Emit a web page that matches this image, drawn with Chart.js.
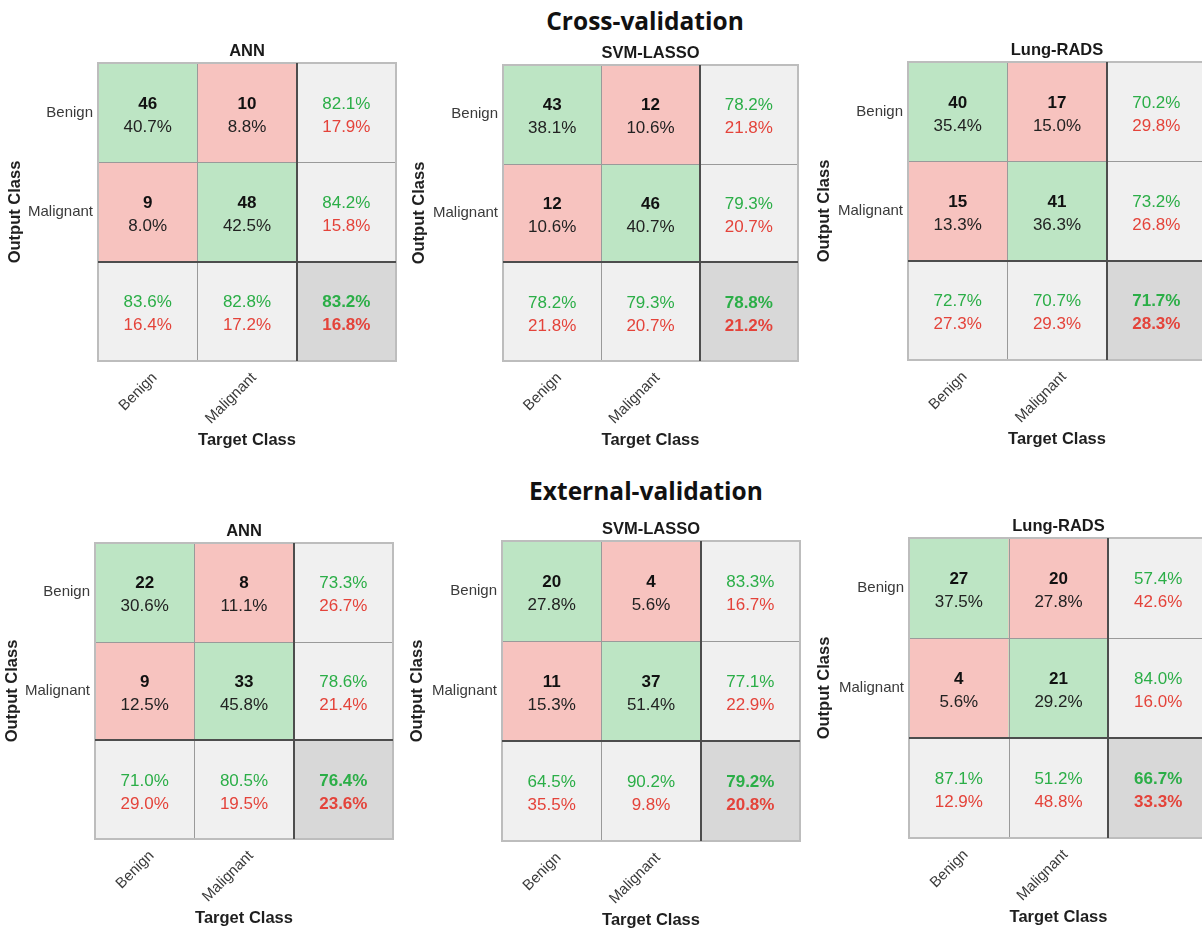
<!DOCTYPE html>
<html>
<head>
<meta charset="utf-8">
<script src="https://cdn.jsdelivr.net/npm/chart.js@4.4.1/dist/chart.umd.min.js"></script>
<style>
html, body { margin: 0; padding: 0; background: #ffffff; overflow: hidden; width: 1202px; height: 928px; }
#wrap { position: relative; width: 1202px; height: 928px; overflow: hidden; }
#wrap canvas { position: absolute; }
.group-title { position: absolute; width: 400px; text-align: center; font-family: 'Open Sans', 'Liberation Sans', sans-serif; font-weight: 700; font-size: 24.5px; line-height: 30px; color: #111; }
</style>
</head>
<body>
<div id="wrap"></div>
<script>
// ---------------- data ----------------
const groupTitles = ['Cross-validation', 'External-validation'];
const modelNames = ['ANN', 'SVM-LASSO', 'Lung-RADS'];
const classLabels = ['Benign', 'Malignant'];          // output-class (row) tick labels
const targetTickLabels = ['Benign', 'Malignant', '']; // target-class (column) tick labels
// counts in order [out Benign/target Benign, out Benign/target Malignant,
//                  out Malignant/target Benign, out Malignant/target Malignant]
const cvANN  = [46, 10, 9, 48];
const cvSVM  = [43, 12, 12, 46];
const cvLung = [40, 17, 15, 41];
const evANN  = [22, 8, 9, 33];
const evSVM  = [20, 4, 11, 37];
const evLung = [27, 20, 4, 21];

// ---------------- styles ----------------
const GREEN_CELL = '#bde5c4';
const RED_CELL = '#f7c3bf';
const GRAY_CELL = '#f0f0f0';
const CORNER_CELL = '#d8d8d8';
const GREEN_TEXT = '#2bae47';
const RED_TEXT = '#e4433a';
const FONT = "'Liberation Sans', Arial, sans-serif";
const cellColors = [
  [GREEN_CELL, RED_CELL, GRAY_CELL],
  [RED_CELL, GREEN_CELL, GRAY_CELL],
  [GRAY_CELL, GRAY_CELL, CORNER_CELL]
];

// ---------------- layout of the six panels ----------------
const panels = [
  { counts: cvANN,  name: modelNames[0], L: 98,  T: 63,  R: 396,  B: 361, left: 6 },
  { counts: cvSVM,  name: modelNames[1], L: 503, T: 65,  R: 798,  B: 361, left: 410 },
  { counts: cvLung, name: modelNames[2], L: 908, T: 62,  R: 1206, B: 360, left: 815 },
  { counts: evANN,  name: modelNames[0], L: 95,  T: 543, R: 393,  B: 839, left: 3 },
  { counts: evSVM,  name: modelNames[1], L: 502, T: 541, R: 800,  B: 841, left: 408 },
  { counts: evLung, name: modelNames[2], L: 909, T: 538, R: 1208, B: 838, left: 815 }
];
const TITLE_BOX = 21;
const XAXIS_H = 89;
const RIGHT_PAD = 2;

const wrap = document.getElementById('wrap');
[[groupTitles[0], 445, 6], [groupTitles[1], 446, 476]].forEach(([txt, x, y]) => {
  const d = document.createElement('div');
  d.className = 'group-title';
  d.style.left = x + 'px';
  d.style.top = y + 'px';
  d.textContent = txt;
  wrap.appendChild(d);
});

function pct(n, d) {
  return (Math.round(n / d * 1000) / 10).toFixed(1) + '%';
}

const cellPlugin = {
  id: 'confusionCells',
  afterDatasetsDraw(chart) {
    const counts = chart.options.plugins.confusionCells.counts;
    const { ctx } = chart;
    const xs = chart.scales.x, ys = chart.scales.y;
    const xe = [0, 1, 2, 3].map(i => xs.getPixelForValue(i - 0.5));
    const ye = [0, 1, 2, 3].map(i => ys.getPixelForValue(i));
    const total = counts.reduce((a, b) => a + b, 0);
    ctx.save();
    // thin inner lines
    ctx.strokeStyle = '#9a9a9a';
    ctx.lineWidth = 1;
    [1].forEach(i => {
      const x = Math.round(xe[i]) + 0.5;
      ctx.beginPath(); ctx.moveTo(x, ye[0]); ctx.lineTo(x, ye[3]); ctx.stroke();
      const y = Math.round(ye[i]) + 0.5;
      ctx.beginPath(); ctx.moveTo(xe[0], y); ctx.lineTo(xe[3], y); ctx.stroke();
    });
    // outer border
    ctx.strokeStyle = '#bdbdbd';
    ctx.lineWidth = 2;
    ctx.strokeRect(xe[0], ye[0], xe[3] - xe[0], ye[3] - ye[0]);
    // thick separators
    ctx.strokeStyle = '#4d4d4d';
    ctx.lineWidth = 2;
    ctx.beginPath(); ctx.moveTo(Math.round(xe[2]), ye[0]); ctx.lineTo(Math.round(xe[2]), ye[3]); ctx.stroke();
    ctx.beginPath(); ctx.moveTo(xe[0], Math.round(ye[2])); ctx.lineTo(xe[3], Math.round(ye[2])); ctx.stroke();

    ctx.textAlign = 'center';
    ctx.textBaseline = 'alphabetic';
    const line = (txt, cx, cy, color, bold) => {
      ctx.font = (bold ? 'bold ' : '') + '17px ' + FONT;
      ctx.fillStyle = color;
      ctx.fillText(txt, cx, cy);
    };
    for (let r = 0; r < 3; r++) {
      for (let c = 0; c < 3; c++) {
        const cx = (xe[c] + xe[c + 1]) / 2;
        const cy = (ye[r] + ye[r + 1]) / 2;
        const top = cy - 4, bot = cy + 19;
        if (r < 2 && c < 2) {
          const v = counts[r * 2 + c];
          line(String(v), cx, top, '#111111', true);
          line(pct(v, total), cx, bot, '#222222', false);
        } else if (r < 2 && c === 2) {
          const ok = counts[r * 3];
          const tot = counts[r * 2] + counts[r * 2 + 1];
          line(pct(ok, tot), cx, top, GREEN_TEXT, false);
          line(pct(tot - ok, tot), cx, bot, RED_TEXT, false);
        } else if (r === 2 && c < 2) {
          const ok = counts[c * 3];
          const tot = counts[c] + counts[2 + c];
          line(pct(ok, tot), cx, top, GREEN_TEXT, false);
          line(pct(tot - ok, tot), cx, bot, RED_TEXT, false);
        } else {
          const ok = counts[0] + counts[3];
          line(pct(ok, total), cx, top, GREEN_TEXT, true);
          line(pct(total - ok, total), cx, bot, RED_TEXT, true);
        }
      }
    }
    ctx.restore();
  }
};

panels.forEach(p => {
  const canvas = document.createElement('canvas');
  const w = p.R + RIGHT_PAD - p.left;
  const h = TITLE_BOX + (p.B - p.T) + XAXIS_H;
  canvas.width = w; canvas.height = h;
  canvas.style.left = p.left + 'px';
  canvas.style.top = (p.T - TITLE_BOX) + 'px';
  canvas.style.width = w + 'px';
  canvas.style.height = h + 'px';
  wrap.appendChild(canvas);
  const yAxisW = p.L - p.left;
  new Chart(canvas, {
    type: 'bar',
    data: {
      labels: targetTickLabels,
      datasets: [0, 1, 2].map(r => ({
        data: [0, 1, 2].map(() => [r, r + 1]),
        backgroundColor: cellColors[r],
        borderWidth: 0,
        barPercentage: 1,
        categoryPercentage: 1,
        grouped: false
      }))
    },
    options: {
      responsive: false,
      animation: false,
      events: [],
      devicePixelRatio: 1,
      layout: { padding: { left: 0, top: 0, right: RIGHT_PAD, bottom: 0 } },
      plugins: {
        legend: { display: false },
        tooltip: { enabled: false },
        title: {
          display: true,
          text: p.name,
          fullSize: false,
          color: '#1a1a1a',
          font: { family: FONT, size: 16.5, weight: 'bold', lineHeight: 1.2 },
          padding: { top: 0, bottom: 1.2 }
        },
        confusionCells: { counts: p.counts }
      },
      scales: {
        x: {
          type: 'category',
          offset: true,
          grid: { display: false, drawTicks: false },
          border: { display: false },
          ticks: {
            minRotation: 45, maxRotation: 45, autoSkip: false,
            color: '#3a3a3a', padding: 8, labelOffset: 7,
            font: { family: FONT, size: 15 }
          },
          title: {
            display: true, text: 'Target Class', color: '#1f1f1f',
            font: { family: FONT, size: 16.5, weight: 'bold', lineHeight: 1.2 },
            padding: { top: 0, bottom: 0 }
          },
          afterFit(scale) { scale.height = XAXIS_H; }
        },
        y: {
          type: 'linear',
          min: 0, max: 3, reverse: true,
          grid: { display: false, drawTicks: false },
          border: { display: false },
          afterBuildTicks(scale) { scale.ticks = [{ value: 0.5 }, { value: 1.5 }]; },
          ticks: {
            color: '#3a3a3a', padding: 5,
            font: { family: FONT, size: 15 },
            callback: (v, i) => classLabels[i]
          },
          title: {
            display: true, text: 'Output Class', color: '#1f1f1f',
            font: { family: FONT, size: 16.5, weight: 'bold', lineHeight: 1.2 },
            padding: { top: 0, bottom: 0 }
          },
          afterFit(scale) { scale.width = yAxisW; }
        }
      }
    },
    plugins: [cellPlugin]
  });
});
</script>
</body>
</html>
